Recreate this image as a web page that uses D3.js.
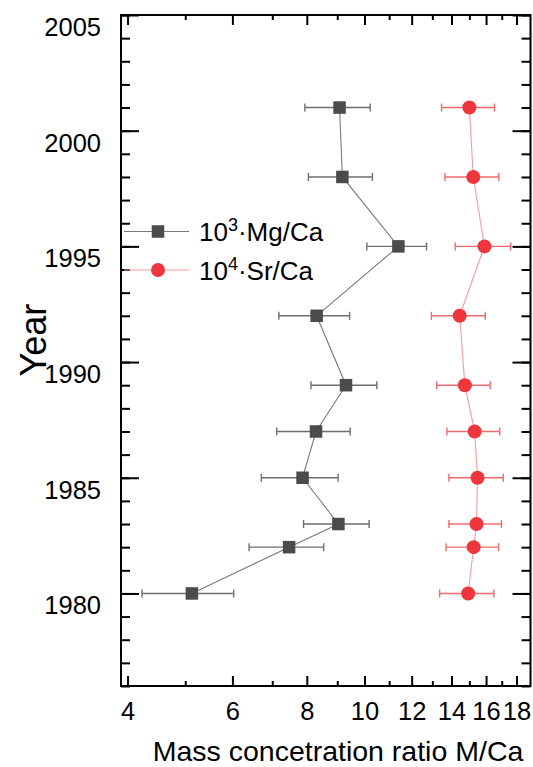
<!DOCTYPE html>
<html>
<head>
<meta charset="utf-8">
<script src="https://cdn.jsdelivr.net/npm/d3@7/dist/d3.min.js"></script>
<style>
  html, body { margin: 0; padding: 0; background: #fff; }
  svg { display: block; font-family: Arial, "Liberation Sans", sans-serif; }
</style>
</head>
<body>
<svg id="chart" width="533" height="767"></svg>
<script>
// ---- data ----
const years = [2001, 1998, 1995, 1992, 1989, 1987, 1985, 1983, 1982, 1980];
const mgCa = [9.08, 9.18, 11.40, 8.31, 9.31, 8.29, 7.87, 9.04, 7.47, 5.13];      // 10^3·Mg/Ca
const mgErr = [1.14, 1.13, 1.31, 1.13, 1.18, 1.17, 1.16, 1.14, 1.07, 0.90];
const srCa = [15.00, 15.23, 15.90, 14.45, 14.74, 15.31, 15.48, 15.42, 15.25, 14.93]; // 10^4·Sr/Ca
const srErr = [1.53, 1.58, 1.70, 1.50, 1.52, 1.56, 1.62, 1.56, 1.54, 1.56];
const xMajorTicks = [4, 6, 8, 10, 12, 14, 16, 18];
const xMinorTicks = [5, 7, 9, 11, 13, 15, 17];
const yMajorTicks = [1980, 1985, 1990, 1995, 2000, 2005];
const yMinorTicks = d3.range(1976, 2006, 1);

// ---- layout ----
const L = 121, R = 530.5, T = 15, B = 686;
const svg = d3.select("#chart");
const x = d3.scaleLog().domain([3.9, 19]).range([L, R]);
const y = d3.scaleLinear().domain([1976, 2005]).range([B, T]);

const mgColor = "#4b4b4b", mgLine = "#7a7a7a", mgBar = "#6e6e6e";
const srColor = "#ee363c", srLine = "#f79a9c", srBar = "#f06a6e";
const FONT = "Arial, 'Liberation Sans', sans-serif";

// ---- axes (ticks inward, mirrored) ----
function styleAxis(g) {
  g.select(".domain").remove();
  g.selectAll("line").attr("stroke", "#000").attr("stroke-width", 2);
}
const fmt = d3.format("d");
// bottom
svg.append("g").attr("transform", `translate(0,${B})`)
  .call(d3.axisBottom(x).tickValues(xMajorTicks).tickSize(-10).tickFormat(fmt).tickPadding(16))
  .call(styleAxis)
  .call(g => g.selectAll("text").attr("font-size", 25.5).attr("fill", "#000").attr("font-family", FONT));
svg.append("g").attr("transform", `translate(0,${B})`)
  .call(d3.axisBottom(x).tickValues(xMinorTicks).tickSize(-5).tickFormat(""))
  .call(styleAxis);
// top
svg.append("g").attr("transform", `translate(0,${T})`)
  .call(d3.axisTop(x).tickValues(xMajorTicks).tickSize(-10).tickFormat(""))
  .call(styleAxis);
svg.append("g").attr("transform", `translate(0,${T})`)
  .call(d3.axisTop(x).tickValues(xMinorTicks).tickSize(-5).tickFormat(""))
  .call(styleAxis);
// left
svg.append("g").attr("transform", `translate(${L},0)`)
  .call(d3.axisLeft(y).tickValues(yMinorTicks).tickSize(-9).tickFormat(""))
  .call(styleAxis);
svg.append("g").attr("transform", `translate(${L},0)`)
  .call(d3.axisLeft(y).tickValues(yMajorTicks).tickSize(-18).tickFormat(fmt).tickPadding(20))
  .call(styleAxis)
  .call(g => g.selectAll("text").attr("font-size", 25.5).attr("fill", "#000")
    .attr("dy", "0.35em").attr("y", 11.5).attr("font-family", FONT));
// right
svg.append("g").attr("transform", `translate(${R},0)`)
  .call(d3.axisRight(y).tickValues(yMinorTicks).tickSize(-9).tickFormat(""))
  .call(styleAxis);
svg.append("g").attr("transform", `translate(${R},0)`)
  .call(d3.axisRight(y).tickValues(yMajorTicks).tickSize(-18).tickFormat(""))
  .call(styleAxis);

// frame
svg.append("rect").attr("x", L).attr("y", T).attr("width", R - L).attr("height", B - T)
  .attr("fill", "none").attr("stroke", "#000").attr("stroke-width", 2);

// axis titles
svg.append("text").attr("x", 338).attr("y", 761).attr("text-anchor", "middle")
  .attr("font-size", 28.5).attr("fill", "#000").text("Mass concetration ratio M/Ca");
svg.append("text").attr("transform", "translate(46,340) rotate(-90)").attr("text-anchor", "middle")
  .attr("font-size", 36).attr("fill", "#000").text("Year");

// ---- series ----
const plot = svg.append("g");
const mgData = years.map((yr, i) => ({ yr, v: mgCa[i], e: mgErr[i] }));
const srData = years.map((yr, i) => ({ yr, v: srCa[i], e: srErr[i] }));
const line = d3.line().x(d => x(d.v)).y(d => y(d.yr));

function errorBars(data, color) {
  const g = plot.append("g").attr("stroke", color).attr("stroke-width", 1.4).attr("fill", "none");
  data.forEach(d => {
    const x0 = x(d.v - d.e), x1 = x(d.v + d.e), yy = y(d.yr);
    g.append("line").attr("x1", x0).attr("x2", x1).attr("y1", yy).attr("y2", yy);
    g.append("line").attr("x1", x0).attr("x2", x0).attr("y1", yy - 4).attr("y2", yy + 4);
    g.append("line").attr("x1", x1).attr("x2", x1).attr("y1", yy - 4).attr("y2", yy + 4);
  });
}
errorBars(mgData, mgBar);
errorBars(srData, srBar);

plot.append("path").datum(mgData).attr("d", line).attr("fill", "none").attr("stroke", mgLine).attr("stroke-width", 1.1);
plot.append("path").datum(srData).attr("d", line).attr("fill", "none").attr("stroke", srLine).attr("stroke-width", 1.1);

const sq = 12.5;
plot.selectAll("rect.mg").data(mgData).enter().append("rect").attr("class", "mg")
  .attr("x", d => x(d.v) - sq / 2).attr("y", d => y(d.yr) - sq / 2)
  .attr("width", sq).attr("height", sq).attr("fill", mgColor);
plot.selectAll("circle.sr").data(srData).enter().append("circle").attr("class", "sr")
  .attr("cx", d => x(d.v)).attr("cy", d => y(d.yr)).attr("r", 7).attr("fill", srColor);

// ---- legend ----
const leg = svg.append("g");
const legY = [231.5, 270];
const lx0 = 124, lx1 = 189, lmx = 158;
// Mg
leg.append("line").attr("x1", lx0).attr("x2", lx1).attr("y1", legY[0]).attr("y2", legY[0]).attr("stroke", mgLine).attr("stroke-width", 1.1);
leg.append("rect").attr("x", lmx - sq / 2).attr("y", legY[0] - sq / 2).attr("width", sq).attr("height", sq).attr("fill", mgColor);
// Sr
leg.append("line").attr("x1", lx0).attr("x2", lx1).attr("y1", legY[1]).attr("y2", legY[1]).attr("stroke", srLine).attr("stroke-width", 1.1);
leg.append("circle").attr("cx", lmx).attr("cy", legY[1]).attr("r", 7).attr("fill", srColor);

function legendText(yy, base, sup, rest) {
  const t = leg.append("text").attr("x", 199).attr("y", yy + 9.5).attr("font-size", 26).attr("fill", "#000");
  t.append("tspan").text(base);
  t.append("tspan").attr("font-size", 18).attr("dy", -10).text(sup);
  t.append("tspan").attr("dy", 10).text(rest);
}
legendText(legY[0], "10", "3", "·Mg/Ca");
legendText(legY[1], "10", "4", "·Sr/Ca");
</script>
</body>
</html>
